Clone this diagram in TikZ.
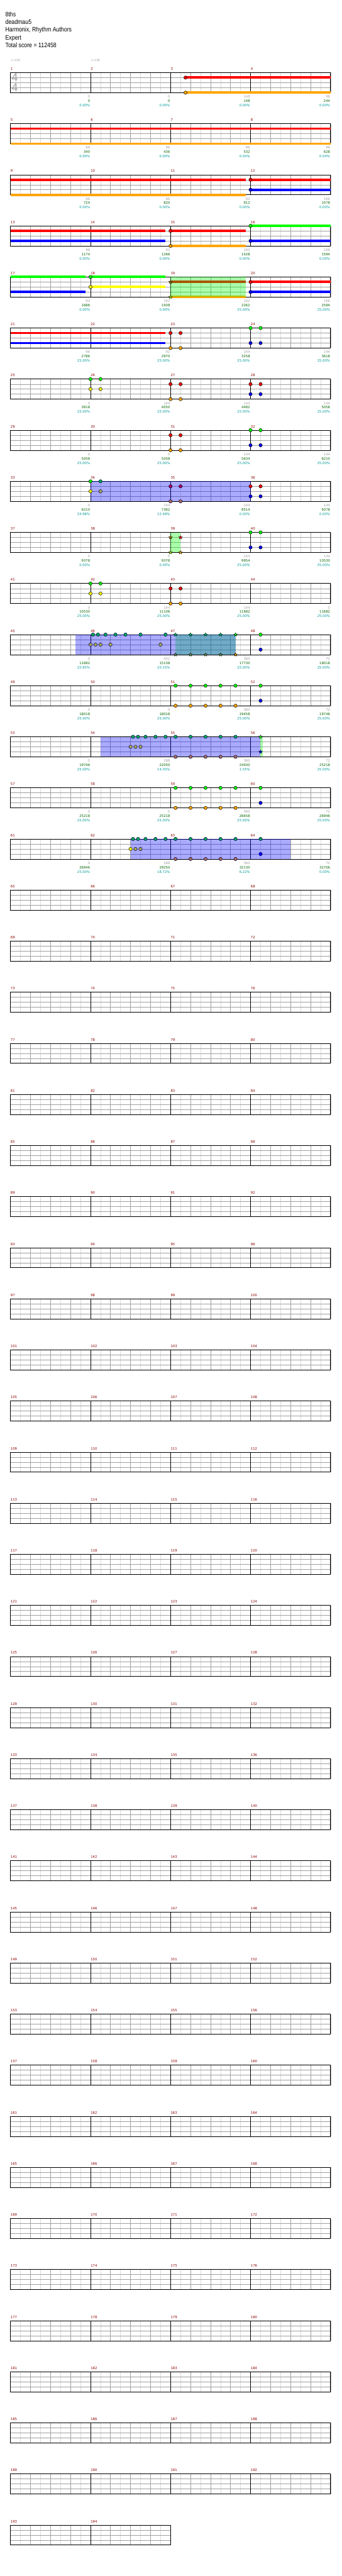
\documentclass[tikz,border=0pt]{standalone}
\usepackage{fontspec}
\setmainfont{DejaVu Sans}
\newfontfamily\hdrfont[FakeStretch=0.85]{Liberation Sans}
\newfontfamily\tsfont{Liberation Sans}
\definecolor{cL}{RGB}{220,220,220}
\definecolor{cG}{RGB}{160,160,160}
\definecolor{mnum}{RGB}{139,0,0}
\definecolor{sgray}{RGB}{160,160,160}
\definecolor{sgreen}{RGB}{0,100,0}
\definecolor{steal}{RGB}{0,153,153}
\definecolor{nG}{RGB}{0,255,0}
\definecolor{nR}{RGB}{255,0,0}
\definecolor{nY}{RGB}{255,255,0}
\definecolor{nB}{RGB}{0,0,255}
\definecolor{nO}{RGB}{255,165,0}
\tikzset{
 lbl/.style={font=\fontsize{7.5pt}{9pt}\selectfont, inner sep=0pt},
 mn/.style={lbl, text=mnum, anchor=base west},
 sg/.style={lbl, text=sgray, anchor=base east},
 sgr/.style={lbl, text=sgreen, anchor=base east},
 stl/.style={lbl, text=steal, anchor=base east},
 eighthline/.style={draw=cL, line width=0.75pt},
 quartline/.style={draw=cG, line width=0.75pt},
 mline/.style={draw=black, line width=0.75pt},
 border/.style={draw=black, line width=1pt},
 sus/.style={line width=5.25pt},
 ovb/.style={fill=nB, fill opacity=0.333},
 ovg/.style={fill=nG, fill opacity=0.333},
 hdr/.style={font=\hdrfont\fontsize{14.6pt}{17pt}\selectfont, anchor=base west, inner sep=0pt},
 tempo/.style={font=\fontsize{6.5pt}{8pt}\selectfont, text=sgray, anchor=base west, inner sep=0pt},
 tsig/.style={font=\tsfont\fontsize{26pt}{26pt}\selectfont, text=sgray, inner sep=0pt},
}
\newenvironment{crow}[1]{\pgfmathsetmacro\rowy{-162.975-114.75*(#1-1)}\begin{scope}[shift={(23.475pt,\rowy pt)},x=11.238pt,y=-11.25pt]}{\end{scope}}
\newcommand\grid[1]{%
 \pgfmathtruncatemacro\sN{16*#1}%
 \foreach \i in {2,6,...,\sN} {\draw[eighthline] (\i,0)--(\i,4);}
 \foreach \i in {4,8,...,\sN} {\draw[quartline] (\i,0)--(\i,4);}
 \foreach \l in {1,2,3} {\draw[quartline] (0,\l)--(\sN,\l);}
 \pgfmathtruncatemacro\mM{#1-1}%
 \foreach \m in {1,...,\mM} {\draw[mline] (16*\m,0)--(16*\m,4);}
 \draw[border] (0,0) rectangle (\sN,4);
}
\newcommand\mnums[2]{%
 \foreach \j in {1,...,#2} {\pgfmathtruncatemacro\mm{#1+\j-1}\node[mn,xshift=0.3pt,yshift=5.5pt] at ({16*(\j-1)},0) {\mm};}}
\newcommand\lb[4]{%
 \node[sg,xshift=-0.9pt,yshift=-11.8pt] at ({16*#1},4) {#2};
 \node[sgr,xshift=-0.9pt,yshift=-21.5pt] at ({16*#1},4) {#3};
 \node[stl,xshift=-0.9pt,yshift=-31.3pt] at ({16*#1},4) {#4\%};}
\newcommand\sus[4]{\draw[sus,#4] (#1,#3)--(#2,#3);}
\newcommand\notebase[3]{\filldraw[fill=#3,draw=black,line width=0.7pt] (#1,#2) circle[radius=3.75pt];}
\newcommand\noteN[3]{\notebase{#1}{#2}{#3}}
\newcommand\noteB[3]{\notebase{#1}{#2}{#3}\fill[ovb] (#1,#2) circle[radius=4.1pt];}
\newcommand\noteG[3]{\notebase{#1}{#2}{#3}\fill[ovg] (#1,#2) circle[radius=4.1pt];}
\newcommand\noteT[3]{\notebase{#1}{#2}{#3}\fill[ovg] (#1,#2) circle[radius=4.1pt];\fill[ovb] (#1,#2) circle[radius=4.1pt];}
\newcommand\stardraw[3]{\begin{scope}[shift={(#1,#2)}]\path[#3] (90:4.2pt) -- (126:1.8pt) -- (162:4.2pt) -- (198:1.8pt) -- (234:4.2pt) -- (270:1.8pt) -- (306:4.2pt) -- (342:1.8pt) -- (18:4.2pt) -- (54:1.8pt) -- cycle;\end{scope}}
\newcommand\starN[3]{\stardraw{#1}{#2}{fill=#3,draw=black,line width=0.5pt}}
\newcommand\starG[3]{\starN{#1}{#2}{#3}\stardraw{#1}{#2}{ovg}}
\newcommand\starT[3]{\starN{#1}{#2}{#3}\stardraw{#1}{#2}{ovg}\stardraw{#1}{#2}{ovb}}
\newcommand\ovB[2]{\fill[ovb] (#1,0) rectangle (#2,4);}
\newcommand\ovG[2]{\fill[ovg] (#1,0) rectangle (#2,4);}
\begin{document}
\begin{tikzpicture}
\useasboundingbox (0,0) rectangle (768pt,-5785.5pt);
\fill[white] (0,0) rectangle (768pt,-5785.5pt);
\node[hdr] (h1) at (12pt,-37.3pt) {8ths};
\node[hdr] (h2) at (12pt,-54.55pt) {deadmau5};
\node[hdr] (h3) at (12pt,-71.8pt) {Harmonix, Rhythm Authors};
\node[hdr] (h4) at (12pt,-89.05pt) {Expert};
\node[hdr] (h5) at (12pt,-106.3pt) {Total score = 112458};
% row 1
\begin{crow}{1}
\grid{4}\mnums{1}{4}
\node[tempo,yshift=24.9pt] (tp1) at (0,0) {♩=128};
\node[tempo,yshift=24.9pt] (tp2) at (16,0) {♩=128};
\node[tsig] (ts1) at (0.85,1) {4};
\node[tsig] (ts2) at (0.85,3) {4};
\sus{35}{64}{1}{nR}\sus{35}{64}{4}{nO}
\noteN{35}{1}{nR}\noteN{35}{4}{nO}
\lb{1}{0}{0}{0.00}\lb{2}{0}{0}{0.00}\lb{3}{148}{148}{0.00}\lb{4}{96}{244}{0.00}
\end{crow}
% row 2
\begin{crow}{2}
\grid{4}\mnums{5}{4}
\sus{0}{64}{1}{nR}\sus{0}{64}{4}{nO}
\lb{1}{96}{340}{0.00}\lb{2}{96}{436}{0.00}\lb{3}{96}{532}{0.00}\lb{4}{96}{628}{0.00}
\end{crow}
% row 3
\begin{crow}{3}
\grid{4}\mnums{9}{4}
\sus{0}{47}{1}{nR}\sus{0}{47}{4}{nO}\sus{48}{64}{1}{nR}\sus{48}{64}{3}{nB}
\noteN{48}{1}{nR}\noteN{48}{3}{nB}
\lb{1}{96}{724}{0.00}\lb{2}{96}{820}{0.00}\lb{3}{92}{912}{0.00}\lb{4}{166}{1078}{0.00}
\end{crow}
% row 4
\begin{crow}{4}
\grid{4}\mnums{13}{4}
\sus{0}{31}{1}{nR}\sus{0}{31}{3}{nB}\sus{32}{47}{1}{nR}\sus{32}{47}{4}{nO}\sus{48}{64}{0}{nG}\sus{48}{64}{3}{nB}
\noteN{32}{1}{nR}\noteN{32}{4}{nO}\noteN{48}{0}{nG}\noteN{48}{3}{nB}
\lb{1}{96}{1174}{0.00}\lb{2}{92}{1266}{0.00}\lb{3}{162}{1428}{0.00}\lb{4}{166}{1594}{0.00}
\end{crow}
% row 5
\begin{crow}{5}
\grid{4}\mnums{17}{4}
\sus{0}{15}{0}{nG}\sus{0}{15}{3}{nB}\sus{16}{31}{0}{nG}\sus{16}{31}{2}{nY}
\sus{32}{47}{1}{nR}\sus{32}{47}{4}{nO}\sus{48}{64}{1}{nR}\sus{48}{64}{3}{nB}
\ovG{32}{47}
\noteN{16}{0}{nG}\noteN{16}{2}{nY}\starG{32}{1}{nR}\starG{32}{4}{nO}\noteN{48}{1}{nR}\noteN{48}{3}{nB}
\lb{1}{92}{1686}{0.00}\lb{2}{162}{1938}{0.00}\lb{3}{162}{2262}{25.00}\lb{4}{166}{2594}{25.00}
\end{crow}
% row 6
\begin{crow}{6}
\grid{4}\mnums{21}{4}
\sus{0}{31}{1}{nR}\sus{0}{31}{3}{nB}
\foreach \p in {32,34} {\noteN{\p}{1}{nR}\noteN{\p}{4}{nO}}
\foreach \p in {48,50} {\noteN{\p}{0}{nG}\noteN{\p}{3}{nB}}
\lb{1}{96}{2786}{25.00}\lb{2}{92}{2970}{25.00}\lb{3}{144}{3258}{25.00}\lb{4}{144}{3618}{25.00}
\end{crow}
% row 7
\begin{crow}{7}
\grid{4}\mnums{25}{4}
\foreach \p in {16,18} {\noteN{\p}{0}{nG}\noteN{\p}{2}{nY}}
\foreach \p in {32,34} {\noteN{\p}{1}{nR}\noteN{\p}{4}{nO}}
\foreach \p in {48,50} {\noteN{\p}{1}{nR}\noteN{\p}{3}{nB}}
\lb{1}{0}{3618}{25.00}\lb{2}{144}{4050}{25.00}\lb{3}{144}{4482}{25.00}\lb{4}{144}{5058}{25.00}
\end{crow}
% row 8
\begin{crow}{8}
\grid{4}\mnums{29}{4}
\foreach \p in {32,34} {\noteN{\p}{1}{nR}\noteN{\p}{4}{nO}}
\foreach \p in {48,50} {\noteN{\p}{0}{nG}\noteN{\p}{3}{nB}}
\lb{1}{0}{5058}{25.00}\lb{2}{0}{5058}{25.00}\lb{3}{144}{5634}{25.00}\lb{4}{144}{6210}{25.00}
\end{crow}
% row 9
\begin{crow}{9}
\grid{4}\mnums{33}{4}
\ovB{16}{48}
\noteN{16}{0}{nG}\noteN{16}{2}{nY}\noteB{18}{0}{nG}\noteB{18}{2}{nY}
\foreach \p in {32,34} {\noteB{\p}{1}{nR}\noteB{\p}{4}{nO}}
\foreach \p in {48,50} {\noteN{\p}{1}{nR}\noteN{\p}{3}{nB}}
\lb{1}{0}{6210}{24.98}\lb{2}{144}{7362}{12.48}\lb{3}{144}{8514}{0.00}\lb{4}{144}{9378}{0.00}
\end{crow}
% row 10
\begin{crow}{10}
\grid{4}\mnums{37}{4}
\ovG{32}{34}
\starG{32}{1}{nR}\starG{32}{4}{nO}\starN{34}{1}{nR}\starN{34}{4}{nO}
\foreach \p in {48,50} {\noteN{\p}{0}{nG}\noteN{\p}{3}{nB}}
\lb{1}{0}{9378}{0.00}\lb{2}{0}{9378}{0.00}\lb{3}{144}{9954}{25.00}\lb{4}{144}{10530}{25.00}
\end{crow}
% row 11
\begin{crow}{11}
\grid{4}\mnums{41}{4}
\foreach \p in {16,18} {\noteN{\p}{0}{nG}\noteN{\p}{2}{nY}}
\foreach \p in {32,34} {\noteN{\p}{1}{nR}\noteN{\p}{4}{nO}}
\lb{1}{0}{10530}{25.00}\lb{2}{144}{11106}{25.00}\lb{3}{144}{11682}{25.00}\lb{4}{0}{11682}{25.00}
\end{crow}
% row 12
\begin{crow}{12}
\grid{4}\mnums{45}{4}
\ovG{33}{45}\ovB{13}{45}
\foreach \p in {16.5,17.5,19,21,23,26,31} {\noteB{\p}{0}{nG}}
\foreach \p in {16,17,18,20,30} {\noteB{\p}{2}{nY}}
\foreach \p in {33,36,39,42} {\starT{\p}{0}{nG}\starT{\p}{4}{nO}}
\starN{45}{0}{nG}\starN{45}{4}{nO}
\noteN{50}{0}{nG}\noteN{50}{3}{nB}
\lb{1}{0}{11682}{22.65}\lb{2}{432}{15138}{10.15}\lb{3}{360}{17730}{25.00}\lb{4}{72}{18018}{25.00}
\end{crow}
% row 13
\begin{crow}{13}
\grid{4}\mnums{49}{4}
\foreach \p in {33,36,39,42,45} {\noteN{\p}{0}{nG}\noteN{\p}{4}{nO}}
\noteN{50}{0}{nG}\noteN{50}{3}{nB}
\lb{1}{0}{18018}{25.00}\lb{2}{0}{18018}{25.00}\lb{3}{360}{19458}{25.00}\lb{4}{72}{19746}{25.00}
\end{crow}
% row 14
\begin{crow}{14}
\grid{4}\mnums{53}{4}
\ovB{18}{50}\ovG{50}{50.4}
\foreach \p in {24.5,25.5,27,29,31,33,36,39,42,45} {\noteB{\p}{0}{nG}}
\foreach \p in {24,25,26} {\noteB{\p}{2}{nY}}
\foreach \p in {33,36,39,42,45} {\noteB{\p}{4}{nO}}
\starN{50}{0}{nG}\starN{50}{3}{nB}
\lb{1}{0}{19746}{25.00}\lb{2}{288}{22050}{14.05}\lb{3}{360}{24930}{1.55}\lb{4}{72}{25218}{25.00}
\end{crow}
% row 15
\begin{crow}{15}
\grid{4}\mnums{57}{4}
\foreach \p in {33,36,39,42,45} {\noteN{\p}{0}{nG}\noteN{\p}{4}{nO}}
\noteN{50}{0}{nG}\noteN{50}{3}{nB}
\lb{1}{0}{25218}{25.00}\lb{2}{0}{25218}{25.00}\lb{3}{360}{26658}{25.00}\lb{4}{72}{26946}{25.00}
\end{crow}
% row 16
\begin{crow}{16}
\grid{4}\mnums{61}{4}
\ovB{24}{56}
\foreach \p in {24.5,25.5,27,29,31,33,36,39,42,45,50} {\noteB{\p}{0}{nG}}
\noteN{24}{2}{nY}\noteB{25}{2}{nY}\noteB{26}{2}{nY}
\foreach \p in {33,36,39,42,45} {\noteB{\p}{4}{nO}}
\noteB{50}{3}{nB}
\lb{1}{0}{26946}{25.00}\lb{2}{288}{29250}{18.72}\lb{3}{360}{32130}{6.22}\lb{4}{72}{32706}{0.00}
\end{crow}
% rows 17-48
\foreach \k in {17,...,48} {
\begin{crow}{\k}
\pgfmathtruncatemacro\fm{4*\k-3}
\grid{4}\mnums{\fm}{4}
\end{crow}
}
\begin{crow}{49}
\grid{2}\mnums{193}{2}
\end{crow}
\end{tikzpicture}
\end{document}
